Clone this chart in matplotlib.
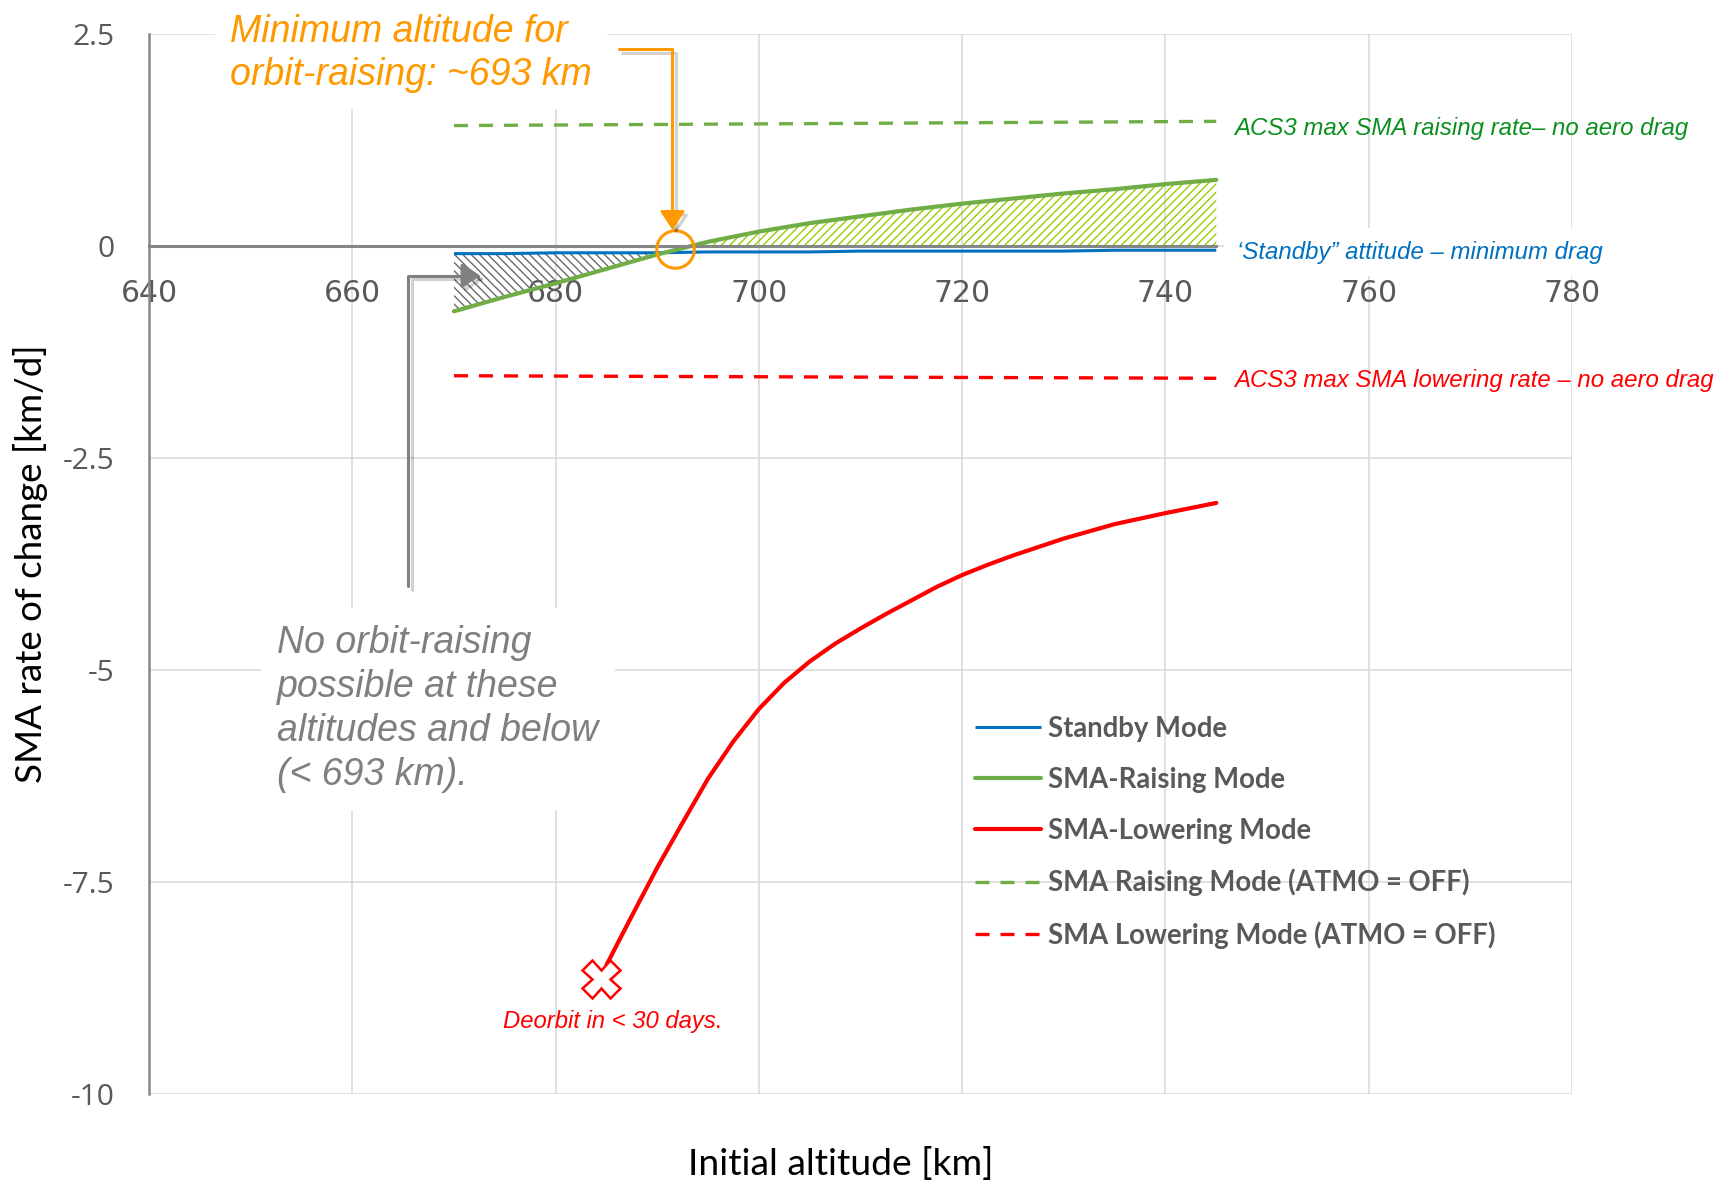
import matplotlib
matplotlib.use("Agg")
import matplotlib.pyplot as plt
import matplotlib.patheffects as pe
from matplotlib.font_manager import FontProperties
import numpy as np

# altitude grid [km] and SMA rates of change [km/d]
raising_alt = [670, 675, 680, 685, 690, 695, 700, 705, 710, 715, 720, 725, 730, 735, 740, 745]
raising_rate = [-0.77, -0.60, -0.44, -0.27, -0.10, 0.05, 0.17, 0.27, 0.35, 0.43,
                0.50, 0.56, 0.62, 0.67, 0.73, 0.78]
standby_rate = [-0.09, -0.09, -0.08, -0.08, -0.08, -0.07, -0.07, -0.07, -0.06, -0.06,
                -0.06, -0.06, -0.06, -0.05, -0.05, -0.05]

lowering_alt = [685, 687.5, 690, 692.5, 695, 697.5, 700, 702.5, 705, 707.5, 710,
                712.5, 715, 717.5, 720, 722.5, 725, 730, 735, 740, 745]
lowering_rate = [-8.48, -7.90, -7.33, -6.80, -6.28, -5.84, -5.46, -5.15, -4.90, -4.69,
                 -4.51, -4.34, -4.18, -4.02, -3.88, -3.76, -3.65, -3.45, -3.28, -3.15,
                 -3.03]

atmo_off_alt = [670, 745]
raising_atmo_off = [1.42, 1.47]
lowering_atmo_off = [-1.53, -1.56]

crossing_alt, crossing_rate = 691.7, -0.04
deorbit_alt, deorbit_rate = 684.5, -8.65

x_ticks = [640, 660, 680, 700, 720, 740, 760, 780]
x_tick_labels = ["640", "660", "680", "700", "720", "740", "760", "780"]
y_ticks = [2.5, 0, -2.5, -5, -7.5, -10]
y_tick_labels = ["2.5", "0", "-2.5", "-5", "-7.5", "-10"]

series_labels = ["Standby Mode", "SMA-Raising Mode", "SMA-Lowering Mode",
                 "SMA Raising Mode (ATMO = OFF)", "SMA Lowering Mode (ATMO = OFF)"]

BLUE = "#0070C0"
GREEN = "#70AD47"
RED = "#FF0000"
ORANGE = "#FF9900"
GREY = "#808080"

plt.rcParams["hatch.linewidth"] = 1.0

fig = plt.figure(figsize=(17.19, 11.81), dpi=100)
ax = fig.add_axes([0.0867, 0.0737, 0.8278, 0.8975])
ax.set_xlim(640, 780)
ax.set_ylim(-10, 2.5)

ax.set_xticks(x_ticks)
ax.set_xticklabels(x_tick_labels, fontfamily="Open Sans")
ax.set_yticks(y_ticks)
ax.set_yticklabels(y_tick_labels, fontfamily="Open Sans")
ax.tick_params(length=0, labelsize=21.5, labelcolor="#595959")
ax.tick_params(axis="x", pad=24)
ax.tick_params(axis="y", pad=25)
ax.grid(True, color="#D9D9D9", lw=1.1)
ax.set_axisbelow(True)

for s in ("top", "right"):
    ax.spines[s].set_visible(False)
ax.spines["left"].set_color("#868686")
ax.spines["left"].set_linewidth(1.8)
ax.spines["bottom"].set_position(("data", 0))
ax.spines["bottom"].set_color("#868686")
ax.spines["bottom"].set_linewidth(2.2)
ax.spines["bottom"].set_bounds(640, 745)

ra = np.array(raising_rate)
sb = np.array(standby_rate)

# hatched zones: no raising possible / net raising
ax.fill_between(raising_alt, ra, sb, where=ra < sb, interpolate=True,
                facecolor="none", edgecolor="#6A6A6A", hatch="\\\\\\\\", lw=0)
ax.fill_between(raising_alt, 0, ra, where=ra > 0, interpolate=True,
                facecolor="none", edgecolor="#99CC00", hatch="////", lw=0)

h1, = ax.plot(raising_alt, standby_rate, color=BLUE, lw=2.2, solid_capstyle="butt")
h2, = ax.plot(raising_alt, raising_rate, color=GREEN, lw=3.0, solid_capstyle="round",
              solid_joinstyle="round")
h3, = ax.plot(lowering_alt, lowering_rate, color=RED, lw=3.0, solid_capstyle="round",
              solid_joinstyle="round")
h4, = ax.plot(atmo_off_alt, raising_atmo_off, color=GREEN, lw=2.4,
              linestyle=(0, (4.2, 3.3)))
h5, = ax.plot(atmo_off_alt, lowering_atmo_off, color=RED, lw=2.4,
              linestyle=(0, (4.2, 3.3)))

ax.plot(deorbit_alt, deorbit_rate, marker="X", ms=27, mfc="white", mec=RED,
        mew=1.8, zorder=5)
ax.plot(crossing_alt, crossing_rate, marker="o", ms=27, mfc="none", mec=ORANGE,
        mew=2.2, zorder=5)

leg = ax.legend([h1, h2, h3, h4, h5], series_labels, loc="upper left",
                bbox_to_anchor=(0.5802, 0.357), frameon=False,
                prop=FontProperties(family="Lato", weight="bold", size=19.8),
                handlelength=2.4, handletextpad=0.25, labelspacing=0.91,
                borderaxespad=0, borderpad=0)
for t in leg.get_texts():
    t.set_color("#595959")

ax.set_xlabel("Initial altitude [km]", fontfamily="Lato", fontsize=26.8, color="black")
ax.xaxis.set_label_coords(0.4863, -0.066)
ax.xaxis.label.set_va("center")
ax.set_ylabel("SMA rate of change [km/d]", fontfamily="Lato", fontsize=26.5, color="black")
ax.yaxis.set_label_coords(-0.0831, 0.5)
ax.yaxis.label.set_va("center")

note_font = dict(family="Liberation Sans", style="italic")
ax.text(648.0, 2.27, "Minimum altitude for\norbit-raising: ~693 km", ha="left",
        va="center", fontsize=27, color=ORANGE, fontdict=note_font, linespacing=1.27,
        bbox=dict(facecolor="white", edgecolor="none", pad=11), zorder=4)
ax.text(652.6, -5.46, "No orbit-raising\npossible at these\naltitudes and below\n(< 693 km).",
        ha="left", va="center", fontsize=27, color="#7F7F7F", fontdict=note_font,
        linespacing=1.29, bbox=dict(facecolor="white", edgecolor="none", pad=12),
        zorder=4)

ax.text(746.8, 1.39, "ACS3 max SMA raising rate\u2013 no aero drag", ha="left",
        va="center", fontsize=17.3, color="#0B8F1E", fontdict=note_font)
ax.text(747.0, -0.075, "\u2018Standby\u201d attitude \u2013 minimum drag", ha="left",
        va="center", fontsize=17.3, color=BLUE, fontdict=note_font,
        bbox=dict(facecolor="white", edgecolor="none", pad=9), zorder=4)
ax.text(746.8, -1.59, "ACS3 max SMA lowering rate \u2013 no aero drag", ha="left",
        va="center", fontsize=17.3, color=RED, fontdict=note_font)
ax.text(685.6, -9.15, "Deorbit in < 30 days.", ha="center", va="center",
        fontsize=17.2, color=RED, fontdict=note_font)

shadow = [pe.SimpleLineShadow(offset=(2.5, -2.5), shadow_color="black", alpha=0.18),
          pe.Normal()]
a1 = ax.annotate("", xy=(691.5, 0.19), xytext=(686.2, 2.32),
                 arrowprops=dict(arrowstyle="-|>,head_length=0.45,head_width=0.3",
                                 color=ORANGE, lw=2.2, shrinkA=0, shrinkB=0,
                                 mutation_scale=25,
                                 connectionstyle="angle,angleA=0,angleB=90,rad=0"),
                 annotation_clip=False, zorder=5)
a1.arrow_patch.set_path_effects(shadow)
a2 = ax.annotate("", xy=(672.6, -0.35), xytext=(665.5, -4.01),
                 arrowprops=dict(arrowstyle="-|>,head_length=0.45,head_width=0.3",
                                 color=GREY, lw=2.2, shrinkA=0, shrinkB=0,
                                 mutation_scale=25,
                                 connectionstyle="angle,angleA=90,angleB=0,rad=0"),
                 annotation_clip=False, zorder=5)
a2.arrow_patch.set_path_effects(shadow)

fig.savefig("out.png", dpi=100)
